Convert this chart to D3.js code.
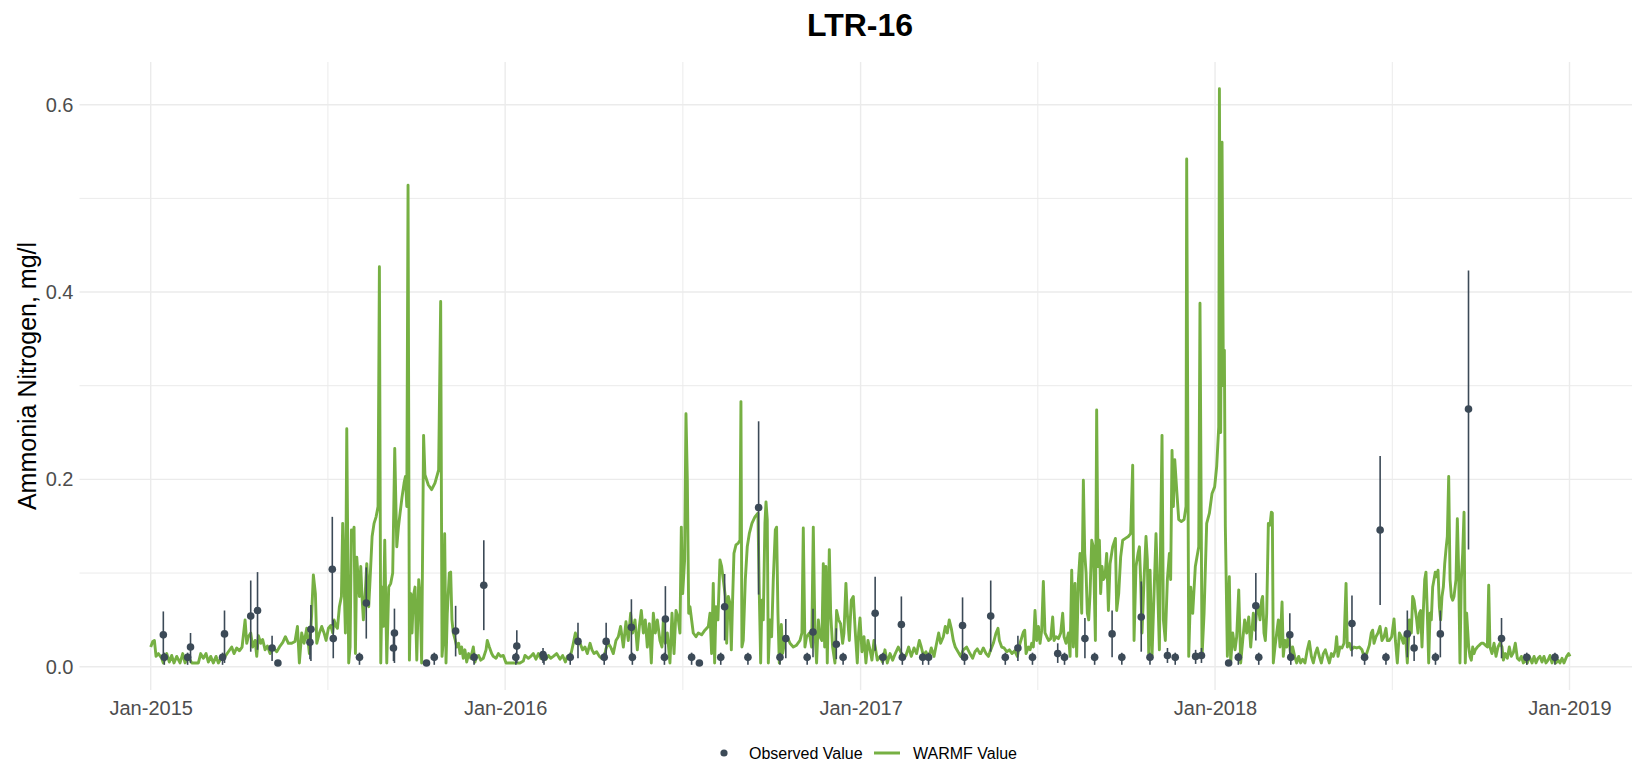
<!DOCTYPE html>
<html>
<head>
<meta charset="utf-8">
<script src="https://cdn.jsdelivr.net/npm/d3@7"></script>
<style>
  body { margin: 0; background: #ffffff; }
  svg { display: block; font-family: "Liberation Sans", Arial, Helvetica, sans-serif; }
</style>
</head>
<body>
<svg id="chart" width="1632" height="764"></svg>
<script>
// ---------------- data ----------------
const chartTitle = "LTR-16";
const yAxisTitle = "Ammonia Nitrogen, mg/l";
const seriesNames = ["Observed Value", "WARMF Value"];
const xTickDates = ["2015-01-01", "2016-01-01", "2017-01-01", "2018-01-01", "2019-01-01"];
const xTickLabels = ["Jan-2015", "Jan-2016", "Jan-2017", "Jan-2018", "Jan-2019"];
const yTicks = [0, 0.2, 0.4, 0.6];
const yTickLabels = ["0.0", "0.2", "0.4", "0.6"];
const yMinorTicks = [0.1, 0.3, 0.5];
const seriesStart = "2015-01-01";

// observed samples: [date, value, lower, upper]
const observed = [
["2015-01-14",.034,.010,.059],["2015-01-15",.010,.002,.015],["2015-02-08",.010,.002,.015],
["2015-02-11",.021,.004,.036],["2015-03-16",.010,.002,.015],["2015-03-18",.035,.004,.060],
["2015-04-14",.054,.016,.092],["2015-04-21",.060,.018,.101],["2015-05-06",.020,.006,.033],
["2015-05-12",.004,.002,.007],["2015-06-14",.026,.008,.042],["2015-06-15",.040,.006,.066],
["2015-07-07",.104,.044,.160],["2015-07-08",.030,.009,.050],["2015-08-04",.010,.002,.015],
["2015-08-11",.068,.030,.106],["2015-09-08",.020,.006,.033],["2015-09-09",.036,.004,.062],
["2015-10-12",.004,.002,.007],["2015-10-20",.010,.002,.015],["2015-11-11",.038,.011,.065],
["2015-11-30",.010,.002,.015],["2015-12-10",.087,.039,.135],["2016-01-12",.010,.002,.015],
["2016-01-13",.022,.004,.039],["2016-02-09",.013,.004,.020],["2016-02-10",.010,.002,.015],
["2016-03-08",.010,.002,.015],["2016-03-16",.027,.009,.047],["2016-04-12",.010,.002,.015],
["2016-04-14",.027,.009,.047],["2016-05-10",.042,.006,.072],["2016-05-11",.010,.002,.015],
["2016-06-13",.010,.002,.015],["2016-06-14",.051,.009,.086],["2016-07-11",.010,.002,.015],
["2016-07-19",.004,.002,.007],["2016-08-10",.010,.002,.015],["2016-08-14",.064,.028,.099],
["2016-09-07",.010,.002,.015],["2016-09-18",.170,.077,.262],["2016-10-10",.010,.002,.015],
["2016-10-16",.030,.009,.051],["2016-11-07",.010,.002,.015],["2016-11-13",.037,.010,.062],
["2016-12-07",.024,.008,.041],["2016-12-14",.010,.002,.015],["2017-01-16",.057,.017,.096],
["2017-01-24",.010,.002,.015],["2017-02-12",.045,.011,.075],["2017-02-13",.010,.002,.015],
["2017-03-06",.010,.002,.015],["2017-03-12",.010,.002,.015],["2017-04-16",.044,.011,.074],
["2017-04-18",.010,.002,.015],["2017-05-15",.054,.016,.092],["2017-05-30",.010,.002,.015],
["2017-06-12",.020,.006,.033],["2017-06-27",.010,.002,.015],["2017-07-23",.014,.004,.025],
["2017-07-30",.010,.002,.015],["2017-08-20",.030,.009,.052],["2017-08-30",.010,.002,.015],
["2017-09-17",.035,.010,.060],["2017-09-27",.010,.002,.015],["2017-10-17",.053,.016,.091],
["2017-10-26",.010,.002,.015],["2017-11-13",.012,.004,.020],["2017-11-21",.010,.002,.015],
["2017-12-12",.011,.003,.018],["2017-12-18",.012,.004,.020],["2018-01-15",.004,.002,.007],
["2018-01-25",.010,.002,.015],["2018-02-12",.065,.028,.100],["2018-02-15",.010,.002,.015],
["2018-03-19",.034,.009,.057],["2018-03-20",.010,.002,.015],["2018-05-22",.046,.011,.076],
["2018-06-04",.010,.002,.015],["2018-06-20",.146,.066,.225],["2018-06-26",.010,.002,.015],
["2018-07-18",.035,.010,.060],["2018-07-25",.020,.006,.033],["2018-08-16",.010,.002,.015],
["2018-08-21",.035,.010,.060],["2018-09-19",.275,.125,.423],["2018-10-23",.030,.009,.052],
["2018-11-18",.010,.002,.015],["2018-12-17",.010,.002,.015]
];

// WARMF simulated series: [days since 2015-01-01, value mg/l]
const warmf = [
[0,.021],[2.1,.027],[3.8,.028],[5.5,.011],[7.9,.014],[11.3,.009],[13,.004],[16.5,.014],[19.2,.005],[21.6,.012],
[24,.004],[26.8,.011],[30.2,.004],[33,.014],[35.4,.004],[38.8,.011],[42.2,.004],[45.7,.004],[49.1,.004],[51.5,.014],
[54.2,.009],[57,.014],[59.4,.005],[61.8,.011],[64.5,.004],[67.3,.011],[69.7,.004],[73.1,.010],[76.6,.011],[80,.016],
[83.4,.021],[85.8,.014],[88.6,.020],[91.3,.017],[94.1,.021],[97.2,.050],[98.9,.025],[100.6,.032],[103,.036],[105,.021],
[107.5,.028],[109.2,.011],[110.9,.033],[113.3,.025],[115.3,.029],[117.8,.018],[120.2,.022],[122.9,.014],[126.3,.020],[129.8,.016],
[133.2,.022],[136,.026],[138.7,.032],[141.8,.025],[145.2,.025],[148.6,.027],[151.1,.043],[153.1,.004],[155.5,.036],[157.9,.025],
[160.7,.041],[163.4,.014],[165.8,.057],[167.5,.098],[169.6,.078],[171,.025],[173.7,.036],[176.1,.043],[178.5,.036],[180.6,.028],
[183,.041],[185.4,.044],[187.4,.036],[188.8,.050],[190.9,.043],[192.3,.041],[194.3,.064],[196.4,.075],[197.7,.153],[199.1,.093],
[200.5,.036],[201.9,.254],[203.9,.004],[205.3,.021],[206.7,.146],[208,.139],[209.4,.149],[210.8,.014],[212.2,.117],[213.5,.096],
[214.9,.075],[216.3,.107],[217.6,.075],[219,.050],[221.1,.082],[222.5,.110],[224.5,.064],[225.9,.093],[228,.139],[230,.153],
[232.1,.160],[234.1,.171],[235.5,.427],[236.9,.004],[238.2,.085],[239.6,.043],[241,.135],[243.1,.004],[245.1,.085],[247.2,.089],
[249.2,.100],[251.3,.233],[253.4,.128],[255.1,.149],[256.8,.164],[258.8,.181],[260.9,.196],[262.3,.203],[263.7,.171],[265,.514],
[266.4,.007],[267.8,.078],[269.1,.036],[270.5,.075],[272.2,.085],[274,.007],[276,.093],[277.4,.075],
[279,.004],[281,.247],[282.4,.205],[285.9,.194],[289.3,.189],[292.7,.196],[296.5,.210],[298.6,.390],[300,.011],[301.3,.028],
[302.7,.142],[304.1,.004],[305.4,.057],[307.5,.100],[308.9,.101],[310.2,.050],[311.6,.036],[313.7,.028],[315.1,.021],[317.1,.025],
[318.5,.014],[320.2,.021],[321.9,.009],[323.6,.018],[325.4,.005],[327.4,.014],[329.5,.009],[332.2,.021],[333.9,.005],[335.7,.011],
[337.7,.012],[339.8,.007],[342.5,.009],[345.3,.018],[346.6,.028],[348.7,.021],[351.1,.014],[352.8,.011],[355.6,.009],[358,.014],
[360.4,.011],[363.1,.012],[365.9,.004],[370,.004],[373.4,.004],[376.8,.004],[380.3,.004],[383.7,.006],[385.4,.012],[388.9,.009],
[391.3,.011],[394,.014],[396.7,.008],[399.2,.014],[401.6,.009],[404.3,.014],[407,.008],[409.5,.012],[411.9,.009],[414.6,.011],
[418,.014],[421.5,.008],[424.2,.012],[427,.005],[429,.011],[431.8,.009],[435.2,.025],[437.3,.036],[439.3,.030],[442.1,.025],
[444.8,.018],[447.2,.021],[449.6,.014],[452.4,.025],[454.4,.018],[456.5,.014],[459.2,.016],[462,.011],[464.4,.009],[466.8,.009],
[468.8,.019],[471.2,.025],[473.6,.021],[476.4,.014],[479.1,.028],[481.5,.032],[483.9,.043],[486.7,.021],[489.4,.048],[491.8,.028],
[494.2,.057],[496.3,.036],[498.7,.050],[501.1,.018],[503.2,.043],[505.2,.060],[507.3,.036],[509.3,.050],[511.4,.021],[513.5,.046],
[515.5,.004],[517.6,.057],[519.6,.036],[521.7,.050],[524.4,.028],[526.5,.021],[527.9,.050],[529.9,.025],[532,.036],[534.7,.004],
[536.8,.057],[538.9,.014],[540.9,.060],[543,.053],[545,.036],[546.4,.149],[547.8,.078],[549.8,.114],[551.2,.270],[552.6,.199],
[554,.057],[555.3,.064],
[558.7,.036],[561.5,.032],[563.9,.036],[567.3,.034],[570.7,.039],[574.2,.043],[575.9,.057],[577.6,.014],[579.3,.089],[580.7,.004],
[582.1,.064],[584.1,.050],[586.2,.114],[587.9,.107],[589.6,.093],[591.7,.075],[593.1,.025],[594.8,.075],[596.5,.068],[597.9,.018],
[599.2,.071],[600.6,.121],[602.7,.130],[605.1,.132],[606.8,.135],[607.8,.283],[608.8,.021],[610.2,.028],[612.3,.093],[614.3,.128],
[616.4,.142],[619.1,.153],[622.2,.160],[625.3,.164],[626.7,.078],[628.1,.004],[629.4,.071],[630.8,.050],[632.5,.153],[633.6,.176],
[634.9,.157],[636,.004],[637.7,.050],[639.4,.032],[641.1,.093],[643.2,.146],[644.5,.149],[645.9,.057],[647.3,.004],[649.4,.045],
[650.7,.014],[653.1,.028],[655.5,.032],[658.3,.025],[661.7,.021],[665.1,.023],[668.6,.028],[670.6,.036],[672,.148],[673.7,.021],
[675.4,.032],[678.2,.036],[680.6,.021],[682.3,.149],[684,.036],[685.7,.004],[687.5,.050],[689.2,.032],[691.2,.028],[692.6,.110],
[694,.021],[695.3,.107],[696.7,.004],[698.8,.125],[700.2,.057],[702.2,.021],[704.6,.004],[706.3,.060],[708.4,.050],[710.4,.046],
[712.5,.025],[713.9,.036],[715.9,.089],[717.3,.057],[719.4,.028],[721.4,.071],[723.5,.075],[725.6,.036],[727.6,.004],[729,.036],
[730.4,.052],[732.4,.016],[734.5,.032],[736.5,.004],[738.6,.028],[740.7,.018],[742.7,.007],[744.8,.028],[746.1,.021],[748.2,.007],
[751,.011],[753.7,.005],[756.1,.018],[758.5,.004],[761.3,.014],[764,.007],[766.7,.014],[769.8,.021],[772.2,.016],[775,.009],
[777.7,.012],[780.5,.021],[783.2,.011],[786,.020],[788.7,.014],[791.5,.028],[793.5,.021],[795.6,.012],[798.3,.016],[801.1,.009],
[803.8,.020],[806.6,.011],[809.3,.025],[811.4,.036],[813.4,.025],[816.2,.032],[818.2,.043],[820.3,.036],[822.3,.050],[824.4,.041],
[826.5,.028],[828.5,.021],[831.3,.016],[834,.011],[836.8,.018],[840.2,.021],[843.6,.014],[846.4,.009],[848.8,.016],[851.2,.019],
[853.9,.014],
[854.7,.014],[857.4,.020],[860.2,.014],[862.6,.011],[865,.018],[867.7,.025],[870.5,.036],[872.5,.041],[873.9,.028],[876.3,.021],
[878.7,.020],[881.5,.016],[884.2,.018],[887,.014],[889.7,.017],[892.4,.011],[895.2,.025],[897.2,.032],[898.6,.037],[900,.039],
[901.4,.014],[903.8,.021],[905.5,.018],[907.2,.025],[908.9,.021],[910.6,.060],[912.3,.028],[914.1,.043],[915.8,.025],[917.5,.039],
[919.2,.091],[920.9,.036],[922.7,.032],[924.7,.028],[926.8,.030],[928.8,.053],[930.2,.028],[932.3,.032],[934.7,.030],[937.1,.036],
[939.1,.057],[940.5,.032],[942.6,.025],[945,.036],[946.7,.011],[948.4,.103],[950.1,.021],[951.8,.089],[953.5,.011],[955.3,.093],
[957,.121],[958.7,.057],[960.4,.199],[961.8,.121],[963.2,.100],[964.5,.057],[965.9,.050],[967.3,.078],[969,.135],[970.7,.128],
[972.8,.028],[974.1,.274],[975.5,.107],[976.9,.135],[978.2,.078],[979.6,.107],[981,.093],[982.7,.096],[984.4,.121],[986.2,.060],
[987.9,.110],[990.6,.128],[993.4,.137],[994.7,.060],[996.8,.078],[998.8,.117],[1000.9,.135],[1003.7,.137],[1006.7,.139],[1009.1,.142],
[1011.2,.215],[1012.6,.028],[1014.6,.107],[1016.7,.121],[1018.1,.128],[1019.4,.093],[1020.8,.036],[1022.9,.093],[1024.9,.139],[1026.3,.114],
[1027.7,.014],[1029.1,.103],[1031.1,.011],[1033.2,.078],[1035.2,.142],[1036.6,.096],[1038.7,.018],[1040,.142],[1041.4,.247],[1042.8,.050],
[1044.8,.028],[1046.9,.093],[1049,.121],[1050.3,.093],[1051.7,.231],[1053.1,.171],[1054.5,.221],[1056.5,.189],[1058.6,.157],[1061.3,.155],
[1064.1,.157],[1066.1,.171],[1066.8,.542],[1068.9,.011],[1070.9,.085],[1073,.057],[1075.7,.107],[1079.2,.128],[1080.5,.388],[1082.6,.011],
[1084.7,.057],[1087.4,.153],[1090.2,.164],[1092.9,.185],[1095.6,.192],[1097.7,.214],[1099.8,.256],[1100.5,.617],[1101.8,.250],[1103.2,.560],
[1104.6,.300],[1105.6,.338],[1106.6,.150],[1108.7,.011],[1110.7,.096],[1112.1,.004],[1114.2,.036],[1116.6,.018],[1118.3,.032],[1120.4,.082],
[1122.4,.004],[1124.5,.028],[1126.5,.050],[1128.6,.036],[1130.7,.053],[1132.7,.021],
[1135.4,.057],[1137.1,.039],[1138.9,.060],[1140.6,.064],[1142.3,.050],[1144,.071],[1145,.075],[1146.4,.036],[1147.8,.028],[1149.2,.057],
[1150.9,.153],[1152.6,.151],[1154,.165],[1155,.164],[1156,.004],[1157.7,.021],[1159.5,.036],[1161.2,.050],[1162.9,.021],[1165,.069],
[1166.3,.011],[1168,.028],[1169.8,.021],[1171.8,.036],[1173.9,.011],[1175.9,.021],[1178,.011],[1180.1,.004],[1182.1,.011],[1184.2,.004],
[1186.2,.008],[1188.6,.004],[1191,.018],[1193.1,.027],[1195.2,.011],[1197.2,.004],[1199.3,.014],[1201.3,.020],[1203.4,.011],[1205.5,.004],
[1207.5,.014],[1209.6,.018],[1211.6,.011],[1213.7,.004],[1215.8,.014],[1217.8,.011],[1219.9,.018],[1221.2,.032],[1222.6,.011],[1224.7,.021],
[1226.7,.020],[1228.8,.025],[1230.9,.089],[1232.2,.021],[1234.3,.025],[1236.3,.018],[1239.1,.021],[1241.8,.020],[1244.6,.021],[1247.3,.018],
[1249.4,.011],[1252.1,.014],[1254.9,.023],[1256.9,.036],[1258.3,.039],[1259.7,.025],[1261.7,.032],[1263.8,.036],[1265.9,.043],[1267.9,.028],
[1270,.032],[1272,.041],[1273.4,.028],[1275.5,.028],[1277.9,.032],[1280.3,.051],[1281.7,.028],[1283.7,.004],[1285.8,.036],[1287.8,.032],
[1289.9,.025],[1292,.036],[1294,.004],[1296.1,.050],[1298.1,.036],[1299.5,.075],[1300.9,.071],[1302.3,.060],[1303.6,.050],[1305,.036],
[1306.4,.057],[1307.7,.060],[1309.1,.021],[1310.5,.060],[1311.9,.093],[1313.2,.101],[1314.6,.057],[1316,.004],[1317.4,.057],[1318.7,.050],
[1320.1,.085],[1321.5,.093],[1322.8,.101],[1324.2,.096],[1325.6,.103],[1327,.064],[1328.3,.050],[1329.7,.075],[1331.1,.085],[1332.5,.110],
[1333.8,.125],[1335.2,.139],[1336.6,.203],[1338,.093],[1339.3,.075],[1340.7,.071],[1342.1,.075],[1344.1,.093],[1345.5,.158],[1346.9,.100],
[1348.2,.004],[1349.6,.093],[1351,.121],[1352.4,.165],[1353.7,.004],[1355.1,.057],[1357.2,.021],[1358.5,.011],[1359.9,.007],[1361.3,.021],
[1362.7,.014],[1364,.018],[1366.1,.021],[1368.2,.023],[1370.2,.025],[1372.3,.025],[1374.3,.023],[1376.4,.021],[1377.8,.087],[1379.1,.021],
[1381.2,.014],[1383.3,.025],[1385.3,.011],[1387.4,.021],[1389.4,.025],[1391.5,.021],[1392.9,.007],[1394.9,.014],[1397,.009],[1399,.021],
[1401.1,.011],[1403.2,.015],[1405.2,.025],[1407.3,.009],[1409.3,.007],[1411.4,.011],[1413.5,.004],[1415.5,.007],[1417.6,.004],[1419.6,.011],
[1422.4,.004],[1424.5,.011],[1426.5,.004],[1428.6,.009],[1430.6,.011],[1432.7,.005],[1434.7,.011],[1436.8,.004],[1438.9,.007],[1440.9,.012],
[1443,.004],[1445,.011],[1447.1,.004],[1449.2,.007],[1451.2,.004],[1453.3,.009],[1455.3,.004],[1458.1,.011],[1460.1,.014],[1461.5,.011]
];

// ---------------- layout & style ----------------
const W = 1632, H = 764;
const panel = { left: 79.5, right: 1640, top: 62, bottom: 690 };
const xRange = [150.7, 1569.5];
const yRange = [666.7, 104.7];
const colObs = "#3c4a57";
const colLine = "#76b043";
const colGrid = "#ebebeb";

const parse = d3.utcParse("%Y-%m-%d");
const t0 = parse(seriesStart);
const dayToDate = d => new Date(t0.getTime() + d * 864e5);

const x = d3.scaleUtc().domain([parse(xTickDates[0]), parse(xTickDates[xTickDates.length - 1])]).range(xRange);
const y = d3.scaleLinear().domain([0, 0.6]).range(yRange);

const svg = d3.select("#chart");
svg.append("rect").attr("width", W).attr("height", H).attr("fill", "#fff");

// grid
const grid = svg.append("g");
const majorX = xTickDates.map(parse);
const minorX = d3.pairs(majorX).map(([a, b]) => new Date((a.getTime() + b.getTime()) / 2));
grid.selectAll(".ymin").data(yMinorTicks).join("line")
  .attr("x1", panel.left).attr("x2", panel.right)
  .attr("y1", d => y(d)).attr("y2", d => y(d))
  .attr("stroke", colGrid).attr("stroke-width", 1.0);
grid.selectAll(".xmin").data(minorX).join("line")
  .attr("x1", d => x(d)).attr("x2", d => x(d))
  .attr("y1", panel.top).attr("y2", panel.bottom)
  .attr("stroke", colGrid).attr("stroke-width", 1.0);
grid.selectAll(".ymaj").data(yTicks).join("line")
  .attr("x1", panel.left).attr("x2", panel.right)
  .attr("y1", d => y(d)).attr("y2", d => y(d))
  .attr("stroke", colGrid).attr("stroke-width", 1.4);
grid.selectAll(".xmaj").data(majorX).join("line")
  .attr("x1", d => x(d)).attr("x2", d => x(d))
  .attr("y1", panel.top).attr("y2", panel.bottom)
  .attr("stroke", colGrid).attr("stroke-width", 1.4);

// axes (labels only)
const yAxis = d3.axisLeft(y).tickValues(yTicks).tickSize(0).tickPadding(6)
  .tickFormat((d, i) => yTickLabels[i]);
const gy = svg.append("g").attr("transform", `translate(${panel.left},0)`).call(yAxis);
gy.select(".domain").remove();
gy.selectAll("text").attr("font-size", 20).attr("fill", "#4d4d4d")
  .attr("font-family", "'Liberation Sans', Arial, sans-serif");

const xAxis = d3.axisBottom(x).tickValues(majorX).tickSize(0).tickPadding(11)
  .tickFormat((d, i) => xTickLabels[i]);
const gx = svg.append("g").attr("transform", `translate(0,${panel.bottom})`).call(xAxis);
gx.select(".domain").remove();
gx.selectAll("text").attr("font-size", 20).attr("fill", "#4d4d4d")
  .attr("font-family", "'Liberation Sans', Arial, sans-serif");

// WARMF line
const line = d3.line().x(d => x(dayToDate(d[0]))).y(d => y(d[1]));
svg.append("path").datum(warmf)
  .attr("d", line).attr("fill", "none")
  .attr("stroke", colLine).attr("stroke-width", 2.9)
  .attr("stroke-linejoin", "round").attr("stroke-linecap", "butt");

// observed error bars and points
const obs = observed.map(r => ({ date: parse(r[0]), v: r[1], lo: r[2], hi: r[3] }));
svg.append("g").selectAll("line").data(obs).join("line")
  .attr("x1", d => x(d.date)).attr("x2", d => x(d.date))
  .attr("y1", d => y(d.lo)).attr("y2", d => y(d.hi))
  .attr("stroke", colObs).attr("stroke-width", 1.6);
svg.append("g").selectAll("circle").data(obs).join("circle")
  .attr("cx", d => x(d.date)).attr("cy", d => y(d.v)).attr("r", 3.8)
  .attr("fill", colObs);

// title
svg.append("text").attr("x", 860).attr("y", 36).attr("text-anchor", "middle")
  .attr("font-size", 32).attr("font-weight", "bold").attr("fill", "#000").text(chartTitle);

// y axis title
svg.append("text").attr("transform", `translate(36,${(panel.top + panel.bottom) / 2}) rotate(-90)`)
  .attr("text-anchor", "middle").attr("font-size", 25).attr("fill", "#000").text(yAxisTitle);

// legend
const lg = svg.append("g").attr("transform", "translate(724,753)");
lg.append("circle").attr("cx", 0).attr("cy", 0).attr("r", 3.6).attr("fill", colObs);
lg.append("text").attr("x", 25).attr("y", 0).attr("dy", "0.36em").attr("font-size", 16)
  .attr("fill", "#000").text(seriesNames[0]);
lg.append("line").attr("x1", 150).attr("x2", 176).attr("y1", 0).attr("y2", 0)
  .attr("stroke", colLine).attr("stroke-width", 3);
lg.append("text").attr("x", 189).attr("y", 0).attr("dy", "0.36em").attr("font-size", 16)
  .attr("fill", "#000").text(seriesNames[1]);
</script>
</body>
</html>
